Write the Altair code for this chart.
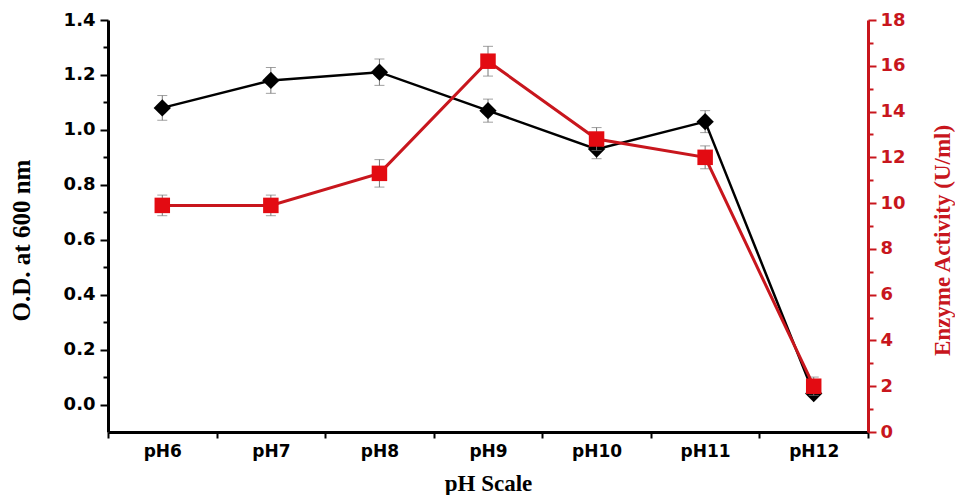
import altair as alt
import pandas as pd

ph = ["pH6", "pH7", "pH8", "pH9", "pH10", "pH11", "pH12"]
od = [1.08, 1.18, 1.21, 1.07, 0.93, 1.03, 0.04]
od_err = [0.045, 0.047, 0.048, 0.042, 0.035, 0.04, 0.01]
enz = [9.9, 9.9, 11.3, 16.2, 12.8, 12.0, 2.0]
enz_err = [0.45, 0.45, 0.6, 0.65, 0.5, 0.5, 0.4]

df = pd.DataFrame({"ph": ph, "od": od, "enz": enz})
df["od_lo"] = df["od"] - pd.Series(od_err)
df["od_hi"] = df["od"] + pd.Series(od_err)
df["enz_lo"] = df["enz"] - pd.Series(enz_err)
df["enz_hi"] = df["enz"] + pd.Series(enz_err)

RED = "#c8161d"
RED_FILL = "#e30b12"
LABEL_FONT = "DejaVu Sans"
TITLE_FONT = "Liberation Serif"

x = alt.X(
    "ph:N", sort=ph, bandPosition=0.5,
    scale=alt.Scale(paddingInner=0, paddingOuter=0),
    axis=alt.Axis(
        title="pH Scale", labelAngle=0, tickBand="extent",
        labelFont=LABEL_FONT, labelFontSize=17, labelFontWeight="bold", labelColor="black",
        titleFont=TITLE_FONT, titleFontSize=23, titleFontWeight="bold", titleColor="black",
        domainColor="black", domainWidth=3, tickColor="black", tickWidth=2, tickSize=6,
        labelPadding=5, titlePadding=13,
    ),
)

od_vals = [round(i * 0.1, 1) for i in range(0, 15)]
enz_vals = list(range(0, 19))

left_axis = alt.Axis(
    title="O.D. at 600 nm", orient="left", values=od_vals, grid=False,
    labelExpr="abs(round(datum.value*10)) % 2 == 0 ? format(datum.value, '.1f') : ''",
    tickSize={"condition": {"test": "abs(round(datum.value*10)) % 2 == 0", "value": 8}, "value": 5},
    labelFont=LABEL_FONT, labelFontSize=18, labelFontWeight="bold", labelColor="black",
    titleFont=TITLE_FONT, titleFontSize=25, titleFontWeight="bold", titleColor="black",
    titleY=220,
    domainColor="black", domainWidth=3, tickColor="black", tickWidth=2,
    labelPadding=5, titlePadding=29,
)
right_axis = alt.Axis(
    title="Enzyme Activity (U/ml)", orient="right", values=enz_vals, grid=False,
    labelExpr="datum.value % 2 == 0 ? format(datum.value, 'd') : ''",
    tickSize={"condition": {"test": "datum.value % 2 == 0", "value": 8}, "value": 5},
    labelFont=LABEL_FONT, labelFontSize=18, labelFontWeight="bold", labelColor=RED,
    titleFont=TITLE_FONT, titleFontSize=23, titleFontWeight="bold", titleColor=RED,
    titleAngle=270, titleBaseline="top", titleY=220,
    domainColor=RED, domainWidth=3, tickColor=RED, tickWidth=2,
    labelPadding=4, titlePadding=26,
)

yod_scale = alt.Scale(domain=[-0.1, 1.4], nice=False, zero=False)
yenz_scale = alt.Scale(domain=[0, 18], nice=False, zero=False)

base = alt.Chart(df)

def yod(f):
    return alt.Y(f, type="quantitative", scale=yod_scale, axis=left_axis)

def yenz(f):
    return alt.Y(f, type="quantitative", scale=yenz_scale, axis=right_axis)

od_rule = base.mark_rule(color="#777777", strokeWidth=1).encode(
    x=x, y=yod("od_lo"), y2="od_hi:Q")
od_cap_lo = base.mark_tick(color="#777777", size=10, thickness=1).encode(x=x, y=yod("od_lo"))
od_cap_hi = base.mark_tick(color="#777777", size=10, thickness=1).encode(x=x, y=yod("od_hi"))
od_line = base.mark_line(color="black", strokeWidth=2.5).encode(x=x, y=yod("od"))
od_pts = base.mark_point(shape="diamond", filled=True, color="black", size=300, opacity=1).encode(
    x=x, y=yod("od"))
od_layer = alt.layer(od_rule, od_cap_lo, od_cap_hi, od_line, od_pts)

enz_rule = base.mark_rule(color="#777777", strokeWidth=1).encode(
    x=x, y=yenz("enz_lo"), y2="enz_hi:Q")
enz_cap_lo = base.mark_tick(color="#777777", size=10, thickness=1).encode(x=x, y=yenz("enz_lo"))
enz_cap_hi = base.mark_tick(color="#777777", size=10, thickness=1).encode(x=x, y=yenz("enz_hi"))
enz_line = base.mark_line(color=RED, strokeWidth=3).encode(x=x, y=yenz("enz"))
enz_pts = base.mark_point(shape="square", filled=True, color=RED_FILL, size=240, opacity=1).encode(
    x=x, y=yenz("enz"))
enz_layer = alt.layer(enz_rule, enz_cap_lo, enz_cap_hi, enz_line, enz_pts)

chart = alt.layer(od_layer, enz_layer).resolve_scale(y="independent").properties(
    width=760, height=412, padding={"left": 1, "top": 3, "right": 0, "bottom": 0},
    background="white",
).configure_view(stroke=None)

chart.save("out.html", embed_options={"renderer": "svg", "actions": False})
